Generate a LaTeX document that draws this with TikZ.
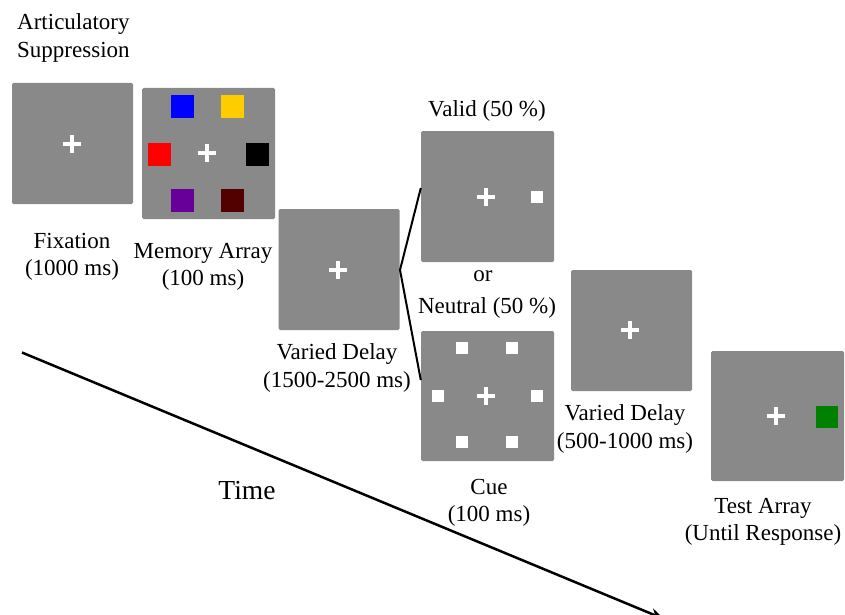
\documentclass[tikz,border=0pt]{standalone}
\usepackage{fontspec}
\setmainfont{Liberation Serif}
\usetikzlibrary{arrows.meta}
\definecolor{scr}{HTML}{898989}
\definecolor{cblue}{HTML}{0000FF}
\definecolor{cyellow}{HTML}{FFCC00}
\definecolor{cred}{HTML}{FF0000}
\definecolor{cpurple}{HTML}{660099}
\definecolor{cdred}{HTML}{520000}
\definecolor{cgreen}{HTML}{008000}
\begin{document}
\begin{tikzpicture}[x=1pt,y=-1pt,
  screen/.style={fill=scr,draw=none,rounded corners=1.5pt,minimum width=#1,minimum height=#1,inner sep=0pt},
  screen/.default=121pt,
  sq/.style={fill=#1,minimum size=23pt,inner sep=0pt},
  wsq/.style={fill=white,minimum size=12pt,inner sep=0pt},
  lbl/.style={font=\fontsize{23}{27.5}\selectfont,align=center,inner sep=0pt},
  branch/.style={line width=2pt,black},
  fix/.pic={\draw[white,line width=3.6pt] (-9,0)--(9,0) (0,-9)--(0,9);}
]
\useasboundingbox (0,0) rectangle (845,615);
% screens
\node[screen=121pt] (fixbox) at (72.5,143.5) {};
\node[screen=133pt,minimum height=131pt] (membox) at (208.5,153.5) {};
\node[screen=121pt] (delay1) at (339,269.5) {};
\node[screen=133pt,minimum height=131pt] (valid) at (487.5,196.5) {};
\node[screen=133pt,minimum height=130pt] (neutral) at (487.5,396) {};
\node[screen=121pt] (delay2) at (631.5,330.5) {};
\node[screen=133pt,minimum height=130pt] (test) at (777.5,416) {};
% fixation crosses
\pic at (72,144) {fix};
\pic at (207,153) {fix};
\pic at (338,270) {fix};
\pic at (486,197) {fix};
\pic at (486,396) {fix};
\pic at (630,330) {fix};
\pic at (776,416) {fix};
% memory array colours
\node[sq=cblue] (m1) at (182.5,106.5) {};
\node[sq=cyellow] (m2) at (232.5,106.5) {};
\node[sq=cred] (m3) at (159.5,154) {};
\node[sq=black] (m4) at (257.5,154) {};
\node[sq=cpurple] (m5) at (182.5,200.5) {};
\node[sq=cdred] (m6) at (232.5,200.5) {};
% cue squares
\node[wsq] (v1) at (537,197) {};
\node[wsq] (n1) at (462,348) {};
\node[wsq] (n2) at (512,348) {};
\node[wsq] (n3) at (438,396) {};
\node[wsq] (n4) at (537,396) {};
\node[wsq] (n5) at (462,442) {};
\node[wsq] (n6) at (512,442) {};
% test square
\node[sq=cgreen,minimum size=22pt] (t1) at (827,417) {};
% branch lines
\coordinate (br) at (400,270);
\draw[branch] (br) -- (valid.west |- 0,188);
\draw[branch] (br) -- (neutral.west |- 0,380);
% labels
\node[lbl,anchor=west,align=left] (art) at (17,38) {Articulatory\\Suppression};
\node[lbl] (lfix) at (72,257) {Fixation\\(1000 ms)};
\node[lbl] (lmem) at (203,267) {Memory Array\\(100 ms)};
\node[lbl] (ld1) at (337,368) {Varied Delay\\(1500-2500 ms)};
\node[lbl] (lvalid) at (487,111) {Valid (50 \%)};
\node[lbl] (lor) at (483,276) {or};
\node[lbl] (lneu) at (487,308) {Neutral (50 \%)};
\node[lbl] (lcue) at (489,503) {Cue\\(100 ms)};
\node[lbl] (ld2) at (625,429) {Varied Delay\\(500-1000 ms)};
\node[lbl] (ltest) at (763,522) {Test Array\\(Until Response)};
\node[font=\fontsize{27.5}{30}\selectfont,inner sep=0pt] (ltime) at (247,491) {Time};
% time arrow
\coordinate (t0) at (22,352.5);
\coordinate (t1e) at (664,619);
\draw[line width=2.5pt,-{Stealth[length=14pt,width=11pt]}] (t0) -- (t1e);
\end{tikzpicture}
\end{document}
